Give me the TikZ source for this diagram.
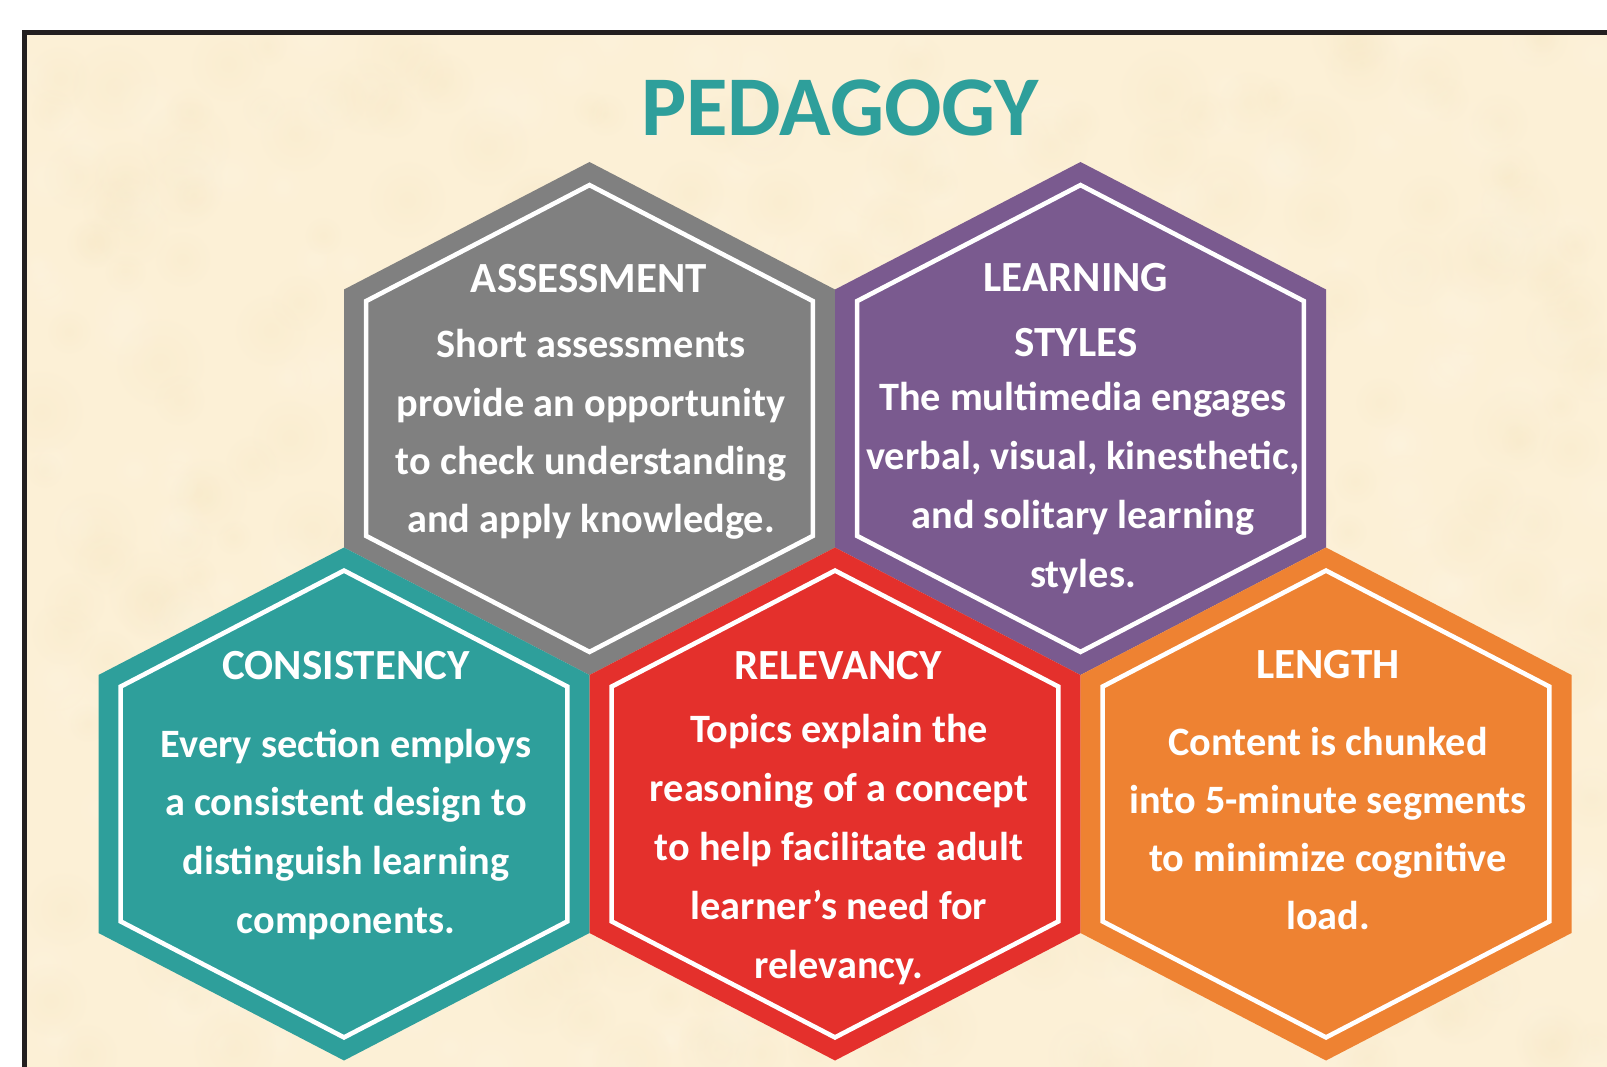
\documentclass[tikz,border=0pt]{standalone}
\usepackage{fontspec}
\setmainfont{Carlito}
\definecolor{paper}{RGB}{252,240,214}
\definecolor{paperdark}{RGB}{245,228,190}
\definecolor{paperlight}{RGB}{254,247,232}
\definecolor{framecol}{RGB}{35,31,32}
\definecolor{hexgray}{RGB}{128,128,128}
\definecolor{hexpurple}{RGB}{122,90,143}
\definecolor{hexteal}{RGB}{46,159,155}
\definecolor{hexred}{RGB}{228,48,44}
\definecolor{hexorange}{RGB}{238,130,50}

% hexagon geometry (half height, slant drop, half width)
\def\hH{256.5}
\def\hS{127.5}
\def\hW{245.5}

\tikzset{
  pics/hexcell/.style={code={
    \fill[#1] (0,-\hH) -- (\hW,-\hH+\hS) -- (\hW,\hH-\hS) -- (0,\hH)
      -- (-\hW,\hH-\hS) -- (-\hW,-\hH+\hS) -- cycle;
    \draw[white, line width=4.6pt, line join=miter, scale=0.91]
      (0,-\hH) -- (\hW,-\hH+\hS) -- (\hW,\hH-\hS) -- (0,\hH)
      -- (-\hW,\hH-\hS) -- (-\hW,-\hH+\hS) -- cycle;
  }},
  headtext/.style={anchor=base, inner sep=0pt, text=white,
    font=\fontsize{43}{50}\selectfont\bfseries},
  bodytext/.style={anchor=base, inner sep=0pt, text=white,
    font=\fontsize{40.3}{48}\selectfont\bfseries},
  titletext/.style={anchor=base, inner sep=0pt, text=hexteal,
    font=\fontsize{85}{92}\selectfont\bfseries},
  blotch/.style={fill opacity=0.22},
}

% one text line per node, baselines spaced evenly
\newcommand\hexlines[5]{%
  \foreach \ln [count=\i] in {#5}
    \node[bodytext] (#1-\i) at (#2, {#3+#4*(\i-1)}) {\ln};}

\begin{document}
\begin{tikzpicture}[x=1pt, y=-1pt]
  \useasboundingbox (0,0) rectangle (1607,1067);
  \fill[white] (0,0) rectangle (1607,1067);
  \begin{scope}
    \clip (0,0) rectangle (1607,1067);
    \fill[paper] (24.5,32.5) rectangle (1640,1100);
    % parchment mottling
    \begin{scope}
      \clip (27,35) rectangle (1607,1067);
      \pgfmathsetseed{4711}
      \foreach \k in {1,...,650} {
        \pgfmathsetmacro\bx{27+1580*rnd}
        \pgfmathsetmacro\by{35+1032*rnd}
        \pgfmathsetmacro\br{18+30*rnd}
        \pgfmathtruncatemacro\bt{int(2*rnd)}
        \ifnum\bt=0
          \shade[blotch, inner color=paperdark, outer color=paper]
            (\bx,\by) circle (\br);
        \else
          \shade[blotch, inner color=paperlight, outer color=paper]
            (\bx,\by) circle (\br);
        \fi
      }
    \end{scope}
    \draw[framecol, line width=5pt] (24.5,32.5) rectangle (1640,1100);
  \end{scope}

  \node[titletext] (title) at (840,136) {PEDAGOGY};

  % upper row
  \pic at (589.5,418.5) {hexcell=hexgray};
  \pic at (1080.5,418.5) {hexcell=hexpurple};
  % lower row
  \pic at (344,804) {hexcell=hexteal};
  \pic at (835,804) {hexcell=hexred};
  \pic at (1326,804) {hexcell=hexorange};

  % ASSESSMENT
  \node[headtext] (assess) at (589,293) {ASSESSMENT};
  \hexlines{assess}{591}{358}{58}{{Short assessments},{provide an opportunity},
    {to check understanding},{and apply knowledge.}}

  % LEARNING STYLES
  \node[headtext] (learn) at (1076,292) {LEARNING};
  \node[headtext] (styles) at (1076,356) {STYLES};
  \hexlines{learn}{1083}{410}{59}{{The multimedia engages},
    {verbal, visual, kinesthetic,},{and solitary learning},{styles.}}

  % CONSISTENCY
  \node[headtext] (consist) at (346,679) {CONSISTENCY};
  \hexlines{consist}{346}{757}{58.7}{{Every section employs},
    {a consistent design to},{distinguish learning},{components.}}

  % RELEVANCY
  \node[headtext] (relev) at (838,679) {RELEVANCY};
  \hexlines{relev}{839}{742}{59.2}{{Topics explain the},
    {reasoning of a concept},{to help facilitate adult},
    {learner’s need for},{relevancy.}}

  % LENGTH
  \node[headtext] (length) at (1328,678) {LENGTH};
  \hexlines{length}{1328}{755}{58.3}{{Content is chunked},
    {into 5-minute segments},{to minimize cognitive},{load.}}
\end{tikzpicture}
\end{document}
